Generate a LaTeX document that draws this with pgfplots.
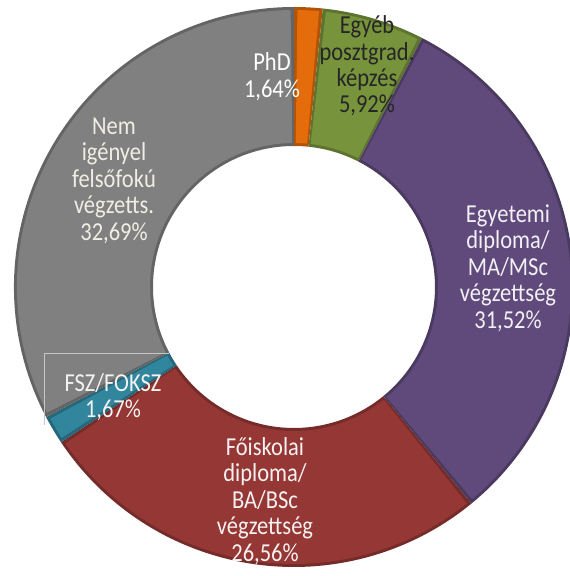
\documentclass[border=0pt]{standalone}
\usepackage{pgfplots}
\pgfplotsset{compat=1.18}
\usepackage{pgfplotstable}
\usepackage{fontspec}
\setmainfont{Carlito}
\usetikzlibrary{calc}

% slice colours, clockwise from 12 o'clock
\definecolor{c0}{HTML}{E46C0A}
\definecolor{c1}{HTML}{77933C}
\definecolor{c2}{HTML}{604A7B}
\definecolor{c3}{HTML}{953735}
\definecolor{c4}{HTML}{31859C}
\definecolor{c5}{HTML}{808080}

% shares in percent: PhD, Egyeb posztgrad., Egyetemi, Foiskolai, FSZ/FOKSZ, Nem igenyel
\pgfplotstableread{
share
1.64
5.92
31.52
26.56
1.67
32.69
}\shares

\begin{document}
\begin{tikzpicture}
\begin{axis}[
  scale only axis,
  width=570pt, height=576pt,
  xmin=0, xmax=570, ymin=0, ymax=576,
  hide axis,
  clip=false,
]
\coordinate (C) at (axis cs:294,289);
\def\cum{0}
\pgfplotsforeachungrouped \i in {0,...,5}{
  \pgfplotstablegetelem{\i}{share}\of\shares
  \pgfmathsetmacro\sa{90-3.6*\cum}
  \pgfmathsetmacro\newcum{\cum+\pgfplotsretval}
  \pgfmathsetmacro\ea{90-3.6*\newcum}
  \pgfmathsetmacro\sai{\sa-0.7}
  \pgfmathsetmacro\eai{\ea+0.7}
  \xdef\cum{\newcum}
  \edef\temp{%
    \noexpand\fill[c\i!78!black] ($(C)+(\sa:280pt)$) arc[start angle=\sa, end angle=\ea, radius=280pt]
      -- ($(C)+(\ea:141pt)$) arc[start angle=\ea, end angle=\sa, radius=141pt] -- cycle;
    \noexpand\fill[c\i] ($(C)+(\sai:277pt)$) arc[start angle=\sai, end angle=\eai, radius=277pt]
      -- ($(C)+(\eai:144pt)$) arc[start angle=\eai, end angle=\sai, radius=144pt] -- cycle;
  }
  \temp
}

% label box of FSZ/FOKSZ
\draw[gray!45, line width=0.6pt] (axis cs:44,151) -- (axis cs:44,223) -- (axis cs:169,223);

\tikzset{lab/.style={align=center, yscale=1.15, transform shape,
  font=\fontsize{22.5}{23}\selectfont}}
\node[lab, text=white] at (axis cs:272,499.5) {PhD\\1,64\%};
\node[lab, text=black!85] at (axis cs:367,510) {Egyéb\\posztgrad.\\képzés\\5,92\%};
\node[lab, text=white!92!c2] at (axis cs:508,308) {Egyetemi\\diploma/\\MA/MSc\\végzettség\\31,52\%};
\node[lab, text=white!93!c3] at (axis cs:265,75) {Főiskolai\\diploma/\\BA/BSc\\végzettség\\26,56\%};
\node[lab, text=white!95!black] at (axis cs:113,179) {FSZ/FOKSZ\\1,67\%};
\node[lab, text={rgb,255:red,240;green,238;blue,228}] at (axis cs:114,395.5) {Nem\\igényel\\felsőfokú\\végzetts.\\32,69\%};
\end{axis}
% arcs' control points would widen the picture: keep the page to the axis box
\pgfresetboundingbox
\path[use as bounding box] (current axis.south west) rectangle (current axis.north east);
\end{tikzpicture}
\end{document}
